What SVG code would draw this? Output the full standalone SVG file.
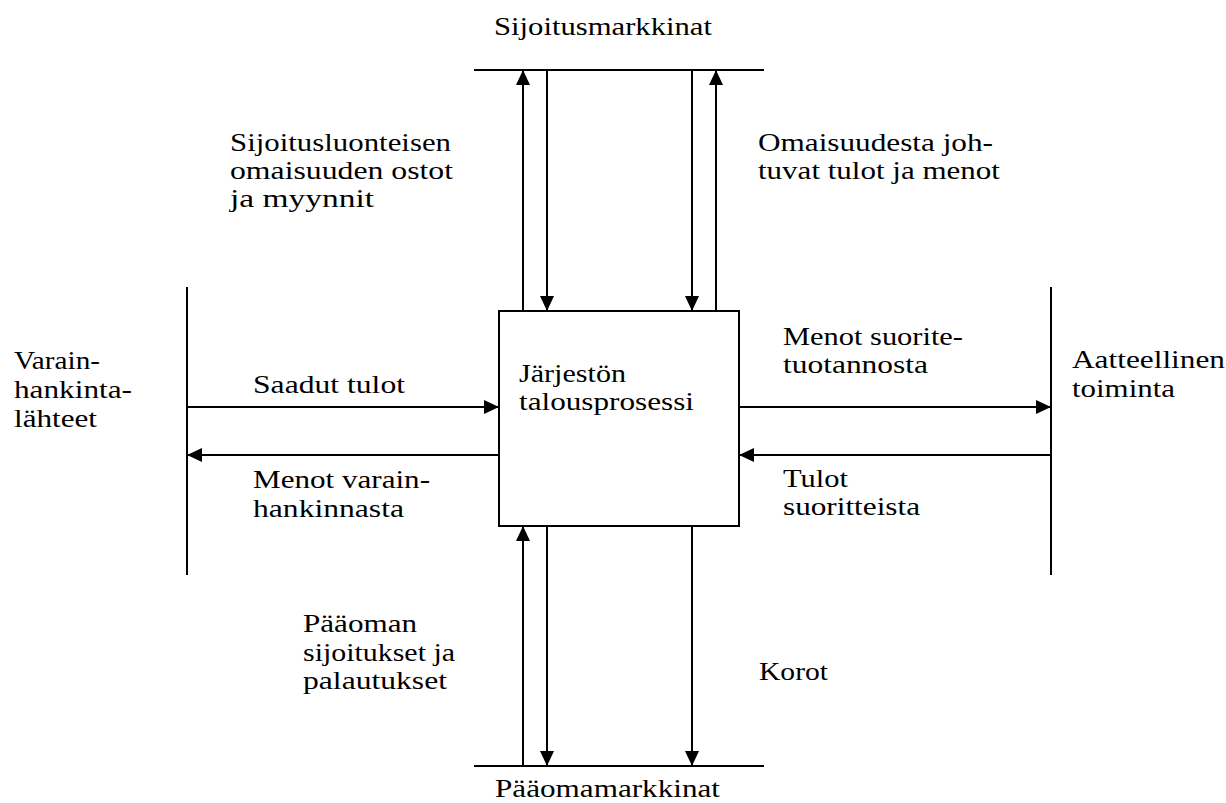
<svg xmlns="http://www.w3.org/2000/svg" width="1226" height="803" viewBox="0 0 1226 803" font-family="Liberation Serif, DejaVu Serif, serif" font-size="25.5">
<style>
.ln { stroke: #000; stroke-width: 2; fill: none; }
.ar { stroke: #000; stroke-width: 2; fill: none; marker-end: url(#ah); }
</style>
<defs>
<marker id="ah" markerUnits="userSpaceOnUse" markerWidth="15" markerHeight="14" refX="15" refY="7" orient="auto">
<path d="M0,0 L15,7 L0,14 z" fill="#000"/>
</marker>
</defs>
<rect width="1226" height="803" fill="#fff"/>

<g id="sijoitusmarkkinat">
<line class="ln" x1="474" y1="70" x2="764" y2="70"/>
<text x="494" y="35" textLength="218" lengthAdjust="spacingAndGlyphs">Sijoitusmarkkinat</text>
</g>

<g id="paaomamarkkinat">
<line class="ln" x1="474" y1="766" x2="764" y2="766"/>
<text x="495" y="797" textLength="225" lengthAdjust="spacingAndGlyphs">Pääomamarkkinat</text>
</g>

<g id="varainhankintalahteet">
<line class="ln" x1="187" y1="287" x2="187" y2="575"/>
<text x="14" y="369" textLength="86" lengthAdjust="spacingAndGlyphs">Varain-</text>
<text x="14" y="398" textLength="118" lengthAdjust="spacingAndGlyphs">hankinta-</text>
<text x="14" y="427" textLength="83" lengthAdjust="spacingAndGlyphs">lähteet</text>
</g>

<g id="aatteellinen-toiminta">
<line class="ln" x1="1051" y1="287" x2="1051" y2="575"/>
<text x="1072" y="368" textLength="153" lengthAdjust="spacingAndGlyphs">Aatteellinen</text>
<text x="1072" y="397" textLength="103" lengthAdjust="spacingAndGlyphs">toiminta</text>
</g>

<g id="talousprosessi">
<rect x="499" y="311" width="240" height="215" fill="#fff" stroke="#000" stroke-width="2"/>
<text x="519" y="382" textLength="107" lengthAdjust="spacingAndGlyphs">Järjestön</text>
<text x="519" y="410" textLength="175" lengthAdjust="spacingAndGlyphs">talousprosessi</text>
</g>

<g id="connectors">
<line class="ar" x1="523" y1="311" x2="523" y2="70"/>
<line class="ar" x1="547" y1="70" x2="547" y2="311"/>
<line class="ar" x1="692" y1="70" x2="692" y2="311"/>
<line class="ar" x1="716" y1="311" x2="716" y2="70"/>
<line class="ar" x1="187" y1="407" x2="499" y2="407"/>
<line class="ar" x1="499" y1="455" x2="187" y2="455"/>
<line class="ar" x1="739" y1="407" x2="1051" y2="407"/>
<line class="ar" x1="1051" y1="455" x2="739" y2="455"/>
<line class="ar" x1="523" y1="766" x2="523" y2="526"/>
<line class="ar" x1="547" y1="526" x2="547" y2="766"/>
<line class="ar" x1="692" y1="526" x2="692" y2="766"/>
</g>

<g id="labels">
<text x="230" y="151" textLength="221" lengthAdjust="spacingAndGlyphs">Sijoitusluonteisen</text>
<text x="230" y="179" textLength="223" lengthAdjust="spacingAndGlyphs">omaisuuden ostot</text>
<text x="230" y="207" textLength="144" lengthAdjust="spacingAndGlyphs">ja myynnit</text>
<text x="758" y="151" textLength="235" lengthAdjust="spacingAndGlyphs">Omaisuudesta joh-</text>
<text x="758" y="179" textLength="242" lengthAdjust="spacingAndGlyphs">tuvat tulot ja menot</text>
<text x="253" y="393" textLength="152" lengthAdjust="spacingAndGlyphs">Saadut tulot</text>
<text x="253" y="488" textLength="177" lengthAdjust="spacingAndGlyphs">Menot varain-</text>
<text x="253" y="517" textLength="151" lengthAdjust="spacingAndGlyphs">hankinnasta</text>
<text x="783" y="345" textLength="180" lengthAdjust="spacingAndGlyphs">Menot suorite-</text>
<text x="783" y="373" textLength="145" lengthAdjust="spacingAndGlyphs">tuotannosta</text>
<text x="783" y="487" textLength="65" lengthAdjust="spacingAndGlyphs">Tulot</text>
<text x="783" y="515" textLength="137" lengthAdjust="spacingAndGlyphs">suoritteista</text>
<text x="303" y="632" textLength="114" lengthAdjust="spacingAndGlyphs">Pääoman</text>
<text x="303" y="661" textLength="152" lengthAdjust="spacingAndGlyphs">sijoitukset ja</text>
<text x="303" y="689" textLength="144" lengthAdjust="spacingAndGlyphs">palautukset</text>
<text x="759" y="680" textLength="69" lengthAdjust="spacingAndGlyphs">Korot</text>
</g>
</svg>
